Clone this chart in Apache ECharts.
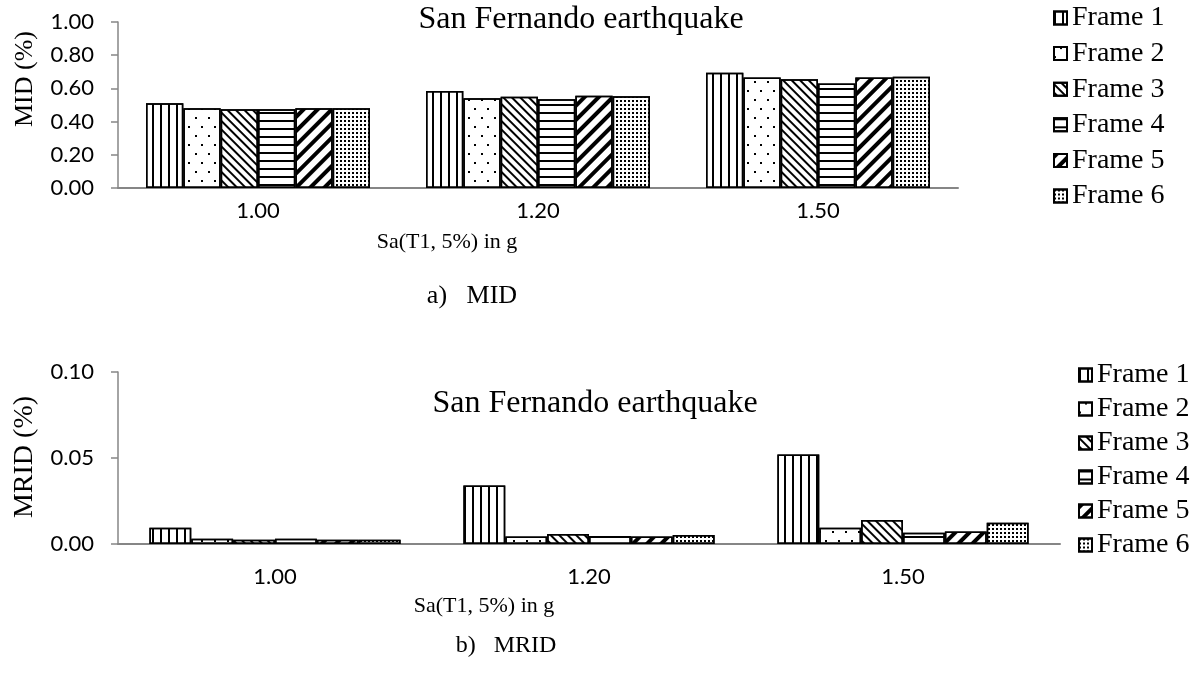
<!DOCTYPE html>
<html>
<head>
<meta charset="utf-8">
<script src="https://cdn.jsdelivr.net/npm/echarts@6.0.0/dist/echarts.min.js"></script>
<style>
  html, body { margin: 0; padding: 0; background: #fff; }
  #chart { width: 1201px; height: 677px; }
</style>
</head>
<body>
<div id="chart"></div>
<script>
// data
const saLevels = ["1.00", "1.20", "1.50"];
const frameNames = ["Frame 1", "Frame 2", "Frame 3", "Frame 4", "Frame 5", "Frame 6"];

// a) MID (%)
const midFrame1 = [0.51, 0.585, 0.695];
const midFrame2 = [0.48, 0.54, 0.665];
const midFrame3 = [0.475, 0.55, 0.655];
const midFrame4 = [0.475, 0.535, 0.63];
const midFrame5 = [0.48, 0.555, 0.665];
const midFrame6 = [0.48, 0.552, 0.67];

// b) MRID (%)
const mridFrame1 = [0.0095, 0.034, 0.052];
const mridFrame2 = [0.003, 0.0043, 0.0095];
const mridFrame3 = [0.0025, 0.0058, 0.014];
const mridFrame4 = [0.003, 0.0047, 0.0066];
const mridFrame5 = [0.0025, 0.0043, 0.0072];
const mridFrame6 = [0.0025, 0.0052, 0.0124];

const midTicks = { min: 0, max: 1, step: 0.2 };
const mridTicks = { min: 0, max: 0.1, step: 0.05 };

const midSeries = [midFrame1, midFrame2, midFrame3, midFrame4, midFrame5, midFrame6];
const mridSeries = [mridFrame1, mridFrame2, mridFrame3, mridFrame4, mridFrame5, mridFrame6];

const serif = "Liberation Serif";
const sans = "Lato";
const axisGray = "#868686";

// black & white hatch patterns, one per frame
const decals = [
  { symbol: "rect", symbolSize: 1, color: "#000", dashArrayX: [2, 6], dashArrayY: [10, 0] },
  { symbol: "rect", symbolSize: 1, color: "#000", dashArrayX: [[1.5, 10.5], [0, 6, 1.5, 4.5]], dashArrayY: [1.5, 7] },
  { symbol: "rect", symbolSize: 1, color: "#000", dashArrayX: [10, 0], dashArrayY: [1.2, 3.2], rotation: Math.PI / 4 },
  { symbol: "rect", symbolSize: 1, color: "#000", dashArrayX: [10, 0], dashArrayY: [2, 6] },
  { symbol: "rect", symbolSize: 1, color: "#000", dashArrayX: [10, 0], dashArrayY: [4, 6], rotation: -Math.PI / 4 },
  { symbol: "rect", symbolSize: 1, color: "#000", dashArrayX: [1.2, 1.6], dashArrayY: [1.2, 1.6] },
];

const makeBars = (values, gridIdx) =>
  values.map((data, i) => ({
    name: frameNames[i],
    type: "bar",
    xAxisIndex: gridIdx,
    yAxisIndex: gridIdx,
    data,
    barGap: "0%",
    barCategoryGap: "20%",
    itemStyle: {
      color: "#fff",
      borderColor: "#000",
      borderWidth: 1.5,
      decal: decals[i],
    },
  }));

const xAxisCommon = (margin) => ({
  type: "category",
  data: saLevels,
  axisTick: { show: false },
  axisLine: { lineStyle: { color: axisGray, width: 2 } },
  axisLabel: { color: "#000", fontFamily: sans, fontSize: 22, margin },
});

const yAxisCommon = (ticks) => ({
  type: "value",
  min: ticks.min,
  max: ticks.max,
  interval: ticks.step,
  axisLine: { show: true, lineStyle: { color: axisGray, width: 1.5 } },
  axisTick: { show: true, length: 7, lineStyle: { color: axisGray, width: 1.5 } },
  splitLine: { show: false },
  axisLabel: {
    color: "#000",
    fontFamily: sans,
    fontSize: 22,
    margin: 24,
    formatter: (v) => v.toFixed(2),
  },
});

const legendCommon = {
  orient: "vertical",
  icon: "rect",
  itemWidth: 13,
  itemHeight: 13,
  data: frameNames,
  selectedMode: false,
  textStyle: { fontFamily: serif, fontSize: 28, color: "#000", lineHeight: 30 },
};

const label = (text, x, y, size, rotation) => ({
  type: "text",
  x,
  y,
  rotation: rotation || 0,
  style: {
    text,
    font: `${size}px "${serif}"`,
    fill: "#000",
    align: "center",
    verticalAlign: "middle",
  },
});

const chart = echarts.init(document.getElementById("chart"));

chart.setOption({
  animation: false,
  grid: [
    { left: 118, top: 22, width: 840, height: 166 },
    { left: 118, top: 372, width: 942, height: 172 },
  ],
  xAxis: [
    { ...xAxisCommon(12), gridIndex: 0 },
    { ...xAxisCommon(22), gridIndex: 1 },
  ],
  yAxis: [
    { ...yAxisCommon(midTicks), gridIndex: 0 },
    { ...yAxisCommon(mridTicks), gridIndex: 1 },
  ],
  legend: [
    { ...legendCommon, left: 1048, top: -2, itemGap: 5.6 },
    { ...legendCommon, left: 1073, top: 355, itemGap: 4 },
  ],
  graphic: [
    label("San Fernando earthquake", 581, 20, 32),
    label("MID (%)", 25, 79, 26, Math.PI / 2),
    label("Sa(T1, 5%) in g", 447, 242, 22),
    label("a)   MID", 472, 296, 26),
    label("San Fernando earthquake", 595, 404, 32),
    label("MRID (%)", 25, 457, 28, Math.PI / 2),
    label("Sa(T1, 5%) in g", 484, 606, 22),
    label("b)   MRID", 506, 646, 24),
  ],
  series: [...makeBars(midSeries, 0), ...makeBars(mridSeries, 1)],
});

window.addEventListener("resize", () => chart.resize());
</script>
</body>
</html>
